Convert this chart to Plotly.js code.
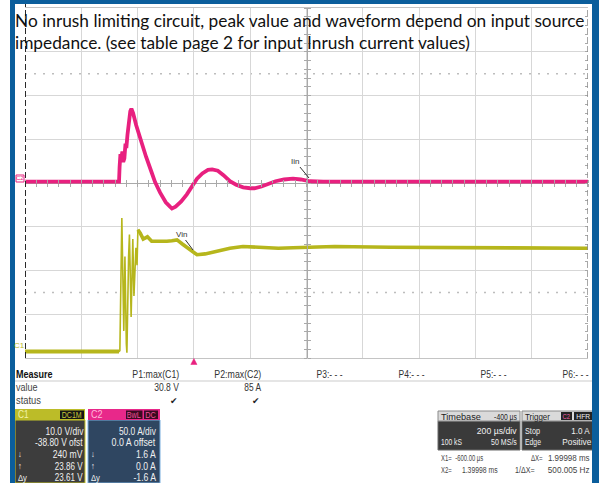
<!DOCTYPE html>
<html>
<head>
<meta charset="utf-8">
<script src="https://cdn.plot.ly/plotly-3.0.1.min.js"></script>
<style>
html,body{margin:0;padding:0;background:#fff;}
#chart{width:599px;height:483px;}
</style>
</head>
<body>
<div id="chart"></div>
<script>
// ---- Data ----
// Time in microseconds (trigger at 0), 200 us/div, delay -400 us
const xRange = [-600, 1400];
// C2: input current Iin (A), 50 A/div, 0 A offset
const tIin = [-600,-400,-266,-264,-261,-257,-254,-251,-247,-243,-240,-236,-231,-226,-222,-216,-205,-191,-170,-150,-138,-120,-100,-85,-78,-65,-45,-25,-5,11,30,50,65,85,105,128,150,175,200,215,240,265,290,320,352,380,412,460,600,800,1000,1200,1400];
const iIin = [1.6,1.6,1.6,18,33,30,36,24,28,45,40,55,70,82,85,80,66,51,30,12,1,-11,-22,-27,-29,-27,-21,-13,-3,5,11,15,15.5,14,9,2,-2,-5,-6,-6,-4,-1,2,4,5,4,2,1.5,1.5,1.5,1.5,1.5,1.5];
// C1: input voltage Vin (V), 10 V/div, -38.80 V offset
const tVin = [-600,-400,-266,-263,-256,-249,-245,-240,-238,-232,-229,-223,-217,-213,-206,-202,-199,-191,-180,-165,-150,-130,-110,-96,-78,-60,-40,-14,11,40,80,128,174,220,260,300,352,412,500,700,900,1100,1300,1400];
const vVin = [0.3,0.3,0.3,0.5,30.8,5,22,2,0,22,27,8.2,26,13,24,20,28.1,27.4,26,26.5,25.5,25.5,25.3,25.5,25.6,25.8,24.8,23.5,22.4,22.6,23.2,23.9,24.3,24.2,24.0,23.9,24.0,24.2,24.3,24.1,24.0,24.1,24.0,23.9];
const iPerDiv = 50, iOffset = 0;
const vPerDiv = 10, vOffset = -38.80;
const hCursors = [125, -125];          // horizontal dotted cursors (A)
const vCursors = [-600, 1400];          // X1, X2 (us)
const triggerT = 0;

// Measure table
const measHeaders = ['P1:max(C1)','P2:max(C2)','P3:- - -','P4:- - -','P5:- - -','P6:- - -'];
const measValues = ['30.8 V','85 A','','','',''];
const measStatus = ['\u2714','\u2714','','','',''];
const c1Lines = ['10.0 V/div','-38.80 V ofst','240 mV','23.86 V','23.61 V'];
const c2Lines = ['50.0 A/div','0.0 A offset','1.6 A','0.0 A','-1.6 A'];
const rowIcons = ['','','\u2193','\u2191','\u0394y'];

// ---- Layout helpers (pixel -> paper) ----
const W=599,H=483,L=25,R=588,T=8,B=358;
const PX = x => (x-L)/(R-L);
const PY = y => (B-y)/(B-T);
const NARROW = '"Liberation Sans", Arial, sans-serif';
const shapes = [];
const ann = [];
const condense = [];
function rect(x0,y0,x1,y1,fill,lc,lw){
  shapes.push({type:'rect',xref:'paper',yref:'paper',x0:PX(x0),x1:PX(x1),y0:PY(y1),y1:PY(y0),
    fillcolor:fill,line:{color:lc||fill,width:lw===undefined?0:lw},layer:'above'});
}
function txt(s,x,y,o){
  o=o||{};
  const a=o.a||'left';
  ann.push({text:s,xref:'paper',yref:'paper',x:PX(x),y:PY(y),xanchor:a,yanchor:'middle',
    showarrow:false,align:'left',borderpad:0,
    font:{family:o.f||NARROW,size:o.s||10,color:o.c||'#222',weight:o.w||'normal'}});
  condense.push(o.nc?null:{w:o.tw||0,s:o.sc||0.85,a:a});
}
function addAnn(a){ann.push(a);condense.push(null);}

// Grid-related decorations
hCursors.forEach(v=>shapes.push({type:'line',xref:'paper',yref:'y',x0:0,x1:1,y0:v,y1:v,
  line:{color:'#bdbdbd',width:1.5,dash:'2px,7px'},layer:'below'}));
shapes.push({type:'line',xref:'x',yref:'paper',x0:vCursors[0],x1:vCursors[0],y0:0,y1:PY(4),
  line:{color:'#2a2a2a',width:2,dash:'6px,3px'},layer:'above'});
shapes.push({type:'line',xref:'x',yref:'paper',x0:vCursors[1],x1:vCursors[1],y0:0,y1:1,
  line:{color:'#8a8a8a',width:1.5,dash:'6px,3px'},layer:'above'});
// trigger marker
shapes.push({type:'path',xref:'x',yref:'paper',
  path:`M ${triggerT-11},${PY(364.5)} L ${triggerT+11},${PY(364.5)} L ${triggerT},${PY(358.5)} Z`,
  fillcolor:'#e8207f',line:{color:'#e8207f',width:0.5},layer:'above'});

// channel markers on left
rect(16,175,24,182,'rgba(0,0,0,0)','#e8207f',1);
txt('C2',20,178.5,{a:'center',s:6,c:'#e8207f',nc:true});
txt('C1',19,345,{a:'center',s:8,c:'#b8b820',nc:true});

// title text
addAnn({text:'No inrush limiting circuit, peak value and waveform depend on input source<br>impedance. (see table page 2 for input Inrush current values)',
  xref:'paper',yref:'paper',x:PX(14),y:PY(9),xanchor:'left',yanchor:'top',align:'left',showarrow:false,borderpad:0,
  font:{family:'Lato, "Open Sans", sans-serif',size:17.3,color:'#111'}});

// trace labels
addAnn({text:'Iin',xref:'paper',yref:'paper',x:PX(309),y:PY(178),ax:-14,ay:-17,showarrow:true,arrowhead:0,arrowwidth:1,
  arrowcolor:'#333',font:{family:NARROW,size:8,color:'#333'}});
addAnn({text:'Vin',xref:'paper',yref:'paper',x:PX(193),y:PY(250),ax:-12,ay:-16,showarrow:true,arrowhead:0,arrowwidth:1,
  arrowcolor:'#333',font:{family:NARROW,size:8,color:'#333'}});

// Measure table
txt('<b>Measure</b>',15,374.5,{c:'#111',tw:37});
txt('value',15,387.5,{c:'#444',tw:22});
txt('status',15,400.5,{c:'#444',tw:25});
shapes.push({type:'line',xref:'paper',yref:'paper',x0:PX(15),x1:PX(592),y0:PY(381),y1:PY(381),line:{color:'#dcdcdc',width:1.5},layer:'above'});
const colRight=[180,262,344,426,508,590];
const valW=[25,17];
measHeaders.forEach((h,i)=>{
  txt(h,colRight[i],374.5,{a:'right',c:'#333',tw:(i<2?47:26)});
  if(measValues[i]) txt(measValues[i],colRight[i],387.5,{a:'right',c:'#333',tw:valW[i]});
  if(measStatus[i]) txt(measStatus[i],colRight[i]-6,400.5,{a:'center',c:'#222',s:9,f:'DejaVu Sans',nc:true});
});

// C1 panel
rect(15,420,85,483,'#3d3d3d','#c6c62a',1);
rect(15,409,85,420,'#bcbc28','#bcbc28',0);
txt('C1',17,414.5,{c:'#f2f2a8',tw:11});
rect(60,410.5,84,419,'#151515');
txt('DC1M',72,414.8,{a:'center',c:'#c8c838',s:9,tw:20});
// C2 panel
rect(88,420,160,483,'#2f4661','#78aede',1);
rect(88,409,160,420,'#e8288a','#e8288a',0);
txt('C2',90,414.5,{c:'#ffb6d9',tw:12});
rect(126,410.5,142.5,419,'#3b0b22');
rect(144,410.5,158,419,'#3b0b22');
txt('BwL',134.3,414.8,{a:'center',c:'#f0509a',s:9,tw:14});
txt('DC',151,414.8,{a:'center',c:'#f0509a',s:9,tw:11});
const rowY=[431.5,442.5,454,466,477.5];
const c1W=[38,48,30,28,28], c2W=[37,44,20,20,23];
c1Lines.forEach((s,i)=>{ txt(s,84,rowY[i],{a:'right',c:'#f0f0f0',tw:c1W[i]}); if(rowIcons[i]) txt(rowIcons[i],17,rowY[i],{c:'#f0f0f0',s:9}); });
c2Lines.forEach((s,i)=>{ txt(s,157,rowY[i],{a:'right',c:'#f0f0f0',tw:c2W[i]}); if(rowIcons[i]) txt(rowIcons[i],90,rowY[i],{c:'#f0f0f0',s:9}); });

// Timebase / Trigger panels
rect(438,421,520,450,'#3a3a3a','#6a6a6a',1);
rect(438,411,520,421,'#dadada','#8a8a8a',1);
txt('Timebase',440,416,{c:'#222',s:9.5,tw:40});
txt('-400 µs',518,416,{a:'right',c:'#222',s:9.5,tw:23});
txt('200 µs/div',518,430,{a:'right',c:'#f0f0f0',s:9.5,tw:40});
txt('100 kS',440,441,{c:'#f0f0f0',s:9.5,tw:21});
txt('50 MS/s',518,441,{a:'right',c:'#f0f0f0',s:9.5,tw:26});
rect(522,421,594,450,'#3a3a3a','#6a6a6a',1);
rect(522,411,594,421,'#dadada','#8a8a8a',1);
txt('Trigger',524,416,{c:'#222',s:9.5,tw:25});
rect(561,412,572,420,'#222');
txt('C2',566.5,416,{a:'center',c:'#f060a8',s:8,tw:8});
rect(574,412,592,420,'#222');
txt('HFR',583,416,{a:'center',c:'#f0f0f0',s:8,tw:14});
txt('Stop',524,430,{c:'#f0f0f0',s:9.5,tw:15});
txt('1.0 A',591,430,{a:'right',c:'#f0f0f0',s:9.5,tw:19});
txt('Edge',524,441,{c:'#f0f0f0',s:9.5,tw:16});
txt('Positive',592,441,{a:'right',c:'#f0f0f0',s:9.5,tw:29});
txt('X1=',440,458,{c:'#444',s:9.5,tw:11});
txt('-600.00 µs',484,458,{a:'right',c:'#444',s:9.5,tw:28});
txt('\u0394X=',530,458,{c:'#444',s:9.5,tw:12});
txt('1.99998 ms',591,458,{a:'right',c:'#444',s:9.5,tw:42});
txt('X2=',440,469,{c:'#444',s:9.5,tw:11});
txt('1.39998 ms',499,469,{a:'right',c:'#444',s:9.5,tw:36});
txt('1/\u0394X=',514,469,{c:'#444',s:9.5,tw:20});
txt('500.005 Hz',591,469,{a:'right',c:'#444',s:9.5,tw:42});

// blue frame
const BLUE='#0b5e9c';
rect(10,0,15,483,BLUE);
rect(10,0,599,4,BLUE);
rect(592,0,599,483,BLUE);

// settled part of Vin (after the ringing spikes) drawn with the thicker noisy band
const settleT = -199;
const tVinS = tVin.filter(t=>t>=settleT), vVinS = vVin.filter((v,i)=>tVin[i]>=settleT);
const tVinA = tVin.filter(t=>t<=-266), vVinA = vVin.filter((v,i)=>tVin[i]<=-266);

const traces = [
  {type:'scatter',mode:'lines',name:'Vin',x:tVin,y:vVin,xaxis:'x',yaxis:'y2',
    line:{color:'#b6b61c',width:1.6},hoverinfo:'skip'},
  {type:'scatter',mode:'lines',name:'Vin',x:tVinS,y:vVinS,xaxis:'x',yaxis:'y2',
    line:{color:'#b6b61c',width:3.6},hoverinfo:'skip'},
  {type:'scatter',mode:'lines',name:'Vin',x:tVinA,y:vVinA,xaxis:'x',yaxis:'y2',
    line:{color:'#b6b61c',width:4},hoverinfo:'skip'},
  {type:'scatter',mode:'lines',name:'Iin',x:tIin,y:iIin,xaxis:'x',yaxis:'y',
    line:{color:'#e8207f',width:3.8},hoverinfo:'skip'},
  {type:'scatter',x:[],y:[],xaxis:'x2',yaxis:'y',showlegend:false,hoverinfo:'skip'},
  {type:'scatter',x:[],y:[],xaxis:'x3',yaxis:'y',showlegend:false,hoverinfo:'skip'},
  {type:'scatter',x:[],y:[],xaxis:'x',yaxis:'y3',showlegend:false,hoverinfo:'skip'},
  {type:'scatter',x:[],y:[],xaxis:'x',yaxis:'y4',showlegend:false,hoverinfo:'skip'},
  {type:'scatter',x:[],y:[],xaxis:'x',yaxis:'y5',showlegend:false,hoverinfo:'skip'}
];
const GRID='#d7d7d7', AX='#a9a9a9';
const iRange=[iOffset-4*iPerDiv, iOffset+4*iPerDiv];
const vRange=[-vOffset-4*vPerDiv, -vOffset+4*vPerDiv];
const tickAxX = (side,ticks)=>({overlaying:'x',anchor:'free',position:0.5,side:side,range:xRange,dtick:40,tick0:xRange[0],
  ticks:ticks,ticklen:3,tickcolor:AX,showticklabels:false,showgrid:false,zeroline:false,showline:false,fixedrange:true});
const tickAxY = (side,ticks,pos,line)=>({overlaying:'y',anchor:'free',position:pos,side:side,range:iRange,dtick:iPerDiv/5,tick0:0,
  ticks:ticks,ticklen:3,tickcolor:AX,showticklabels:false,showgrid:false,zeroline:false,showline:line,linecolor:AX,linewidth:1,fixedrange:true});
const layout = {
  width:W,height:H,margin:{l:L,r:W-R,t:T,b:H-B,pad:0},
  paper_bgcolor:'#ffffff',plot_bgcolor:'#ffffff',showlegend:false,
  xaxis:{range:xRange,dtick:200,tick0:xRange[0],showgrid:true,gridcolor:GRID,gridwidth:1,showticklabels:false,ticks:'',
    zeroline:false,showline:true,mirror:true,linecolor:'#c4c4c4',linewidth:1,fixedrange:true},
  yaxis:{range:iRange,dtick:iPerDiv,tick0:0,showgrid:true,gridcolor:GRID,gridwidth:1,showticklabels:false,ticks:'',
    zeroline:true,zerolinecolor:AX,zerolinewidth:1,showline:false,fixedrange:true},
  yaxis2:{overlaying:'y',range:vRange,visible:false,fixedrange:true},
  xaxis2:tickAxX('bottom','outside'),
  xaxis3:tickAxX('top','outside'),
  yaxis3:tickAxY('left','outside',0.5,true),
  yaxis4:tickAxY('right','outside',0.5,false),
  yaxis5:tickAxY('right','inside',1,false),
  shapes:shapes,annotations:ann
};
Plotly.newPlot('chart',traces,layout,{displayModeBar:false,staticPlot:true}).then(gd=>{
  // condense the instrument-panel texts horizontally (the scope uses a narrow font)
  gd.querySelectorAll('g.annotation').forEach(g=>{
    const i = +g.getAttribute('data-index');
    const c = condense[i]; if(!c) return;
    const t = g.querySelector('text.annotation-text'); if(!t) return;
    const bb = t.getBBox(); if(!bb.width) return;
    const s = c.w ? Math.min(1.15, c.w/bb.width) : c.s;
    const ox = c.a==='left' ? bb.x : (c.a==='right' ? bb.x+bb.width : bb.x+bb.width/2);
    const prev = t.getAttribute('transform')||'';
    t.setAttribute('transform', prev+` translate(${ox},0) scale(${s},1) translate(${-ox},0)`);
  });
});
</script>
</body>
</html>
